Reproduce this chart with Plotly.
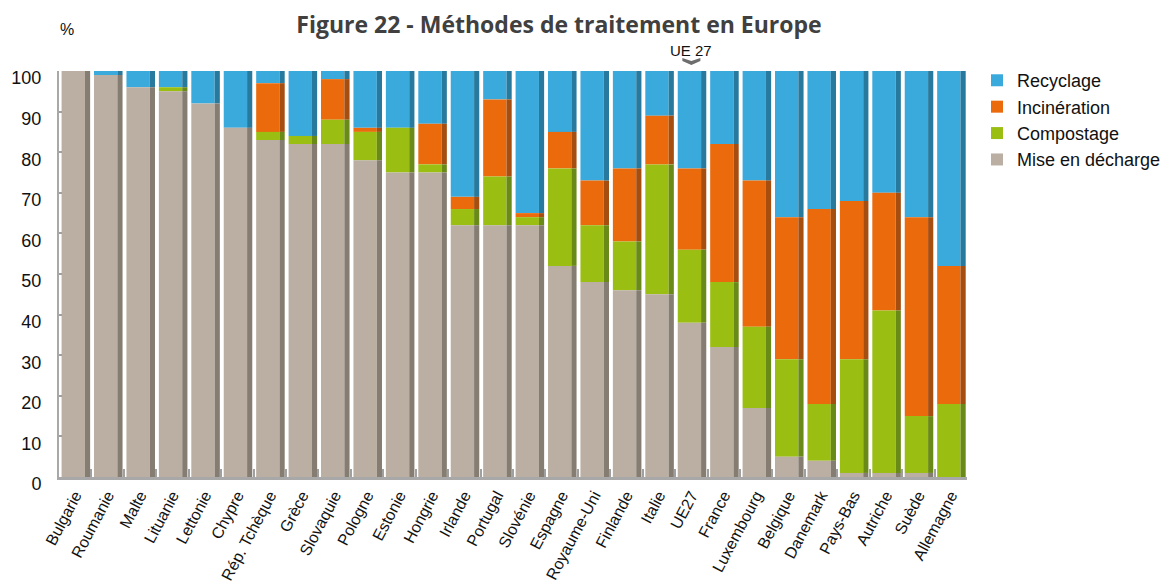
import numpy as np
import plotly.graph_objects as go

countries = ["Bulgarie", "Roumanie", "Malte", "Lituanie", "Lettonie", "Chypre", "Rép. Tchèque",
             "Grèce", "Slovaquie", "Pologne", "Estonie", "Hongrie", "Irlande", "Portugal",
             "Slovénie", "Espagne", "Royaume-Uni", "Finlande", "Italie", "UE27", "France",
             "Luxembourg", "Belgique", "Danemark", "Pays-Bas", "Autriche", "Suède", "Allemagne"]

mise_en_decharge = [100, 99, 96, 95, 92, 86, 83, 82, 82, 78, 75, 75, 62, 62, 62, 52, 48, 46, 45, 38, 32, 17, 5, 4, 1, 1, 1, 0]
compostage = [0, 0, 0, 1, 0, 0, 2, 2, 6, 7, 11, 2, 4, 12, 2, 24, 14, 12, 32, 18, 16, 20, 24, 14, 28, 40, 14, 18]
incineration = [0, 0, 0, 0, 0, 0, 12, 0, 10, 1, 0, 10, 3, 19, 1, 9, 11, 18, 12, 20, 34, 36, 35, 48, 39, 29, 49, 34]
recyclage = [0, 1, 4, 4, 8, 14, 3, 16, 2, 14, 14, 13, 31, 7, 35, 15, 27, 24, 11, 24, 18, 27, 36, 34, 32, 30, 36, 48]

y_ticks = [0, 10, 20, 30, 40, 50, 60, 70, 80, 90, 100]

FONT = "Liberation Sans, Arial, sans-serif"

m = np.array(mise_en_decharge, dtype=float)
c = np.array(compostage, dtype=float)
i = np.array(incineration, dtype=float)
r = np.array(recyclage, dtype=float)

series = [
    ("Recyclage", r, m + c + i, "#3AA9DC", "#27799E"),
    ("Incinération", i, m + c, "#EA6A0C", "#A64D10"),
    ("Compostage", c, m, "#9ABE12", "#6A8A17"),
    ("Mise en décharge", m, np.zeros_like(m), "#BAAFA2", "#857D72"),
]

fig = go.Figure()
for name, vals, base, col, dark in series:
    fig.add_trace(go.Bar(
        x=countries, y=vals, base=base, name=name,
        marker=dict(color=col, line=dict(width=0)),
        offset=-0.42, width=0.72,
        hoverinfo="skip",
    ))
    fig.add_trace(go.Bar(
        x=countries, y=vals, base=base, name=name, showlegend=False,
        marker=dict(color=dark, line=dict(width=0)),
        offset=0.30, width=0.16, hoverinfo="skip",
    ))

# the page body adds an 8px margin, so the figure is sized 1160x576
fig.update_layout(
    width=1160, height=576,
    barmode="overlay",
    plot_bgcolor="white", paper_bgcolor="white",
    margin=dict(l=51, r=201, t=63, b=107, autoexpand=False),
    font=dict(family=FONT, size=17, color="#111111"),
    title=dict(
        text="<b>Figure 22 - Méthodes de traitement en Europe</b>",
        x=0.475, xanchor="center", y=0.9705, yanchor="middle",
        font=dict(family="Open Sans, sans-serif", size=23, color="#404040"),
    ),
    legend=dict(
        x=1.011, xanchor="left", y=1.022, yanchor="top",
        font=dict(family=FONT, size=18, color="#111111"),
        itemwidth=30, tracegroupgap=0, traceorder="normal",
        bgcolor="rgba(0,0,0,0)",
    ),
    showlegend=True,
)

fig.update_xaxes(
    type="category", categoryorder="array", categoryarray=countries,
    showline=True, linecolor="#A8A8A8", linewidth=3,
    ticks="inside", tickson="boundaries", ticklen=8, tickwidth=2, tickcolor="#A0A0A0",
    tickangle=-62, tickfont=dict(family=FONT, size=16, color="#111111"),
    showgrid=False, zeroline=False, range=[-0.5, len(countries) - 0.5],
    automargin=False,
)
fig.update_yaxes(
    range=[0, 100], tickvals=y_ticks, ticktext=[str(v) for v in y_ticks],
    showline=True, linecolor="#A8A8A8", linewidth=2,
    ticks="inside", ticklen=3, tickwidth=2, tickcolor="#A0A0A0",
    tickfont=dict(family=FONT, size=18, color="#111111"),
    ticklabelshift=7, ticklabelstandoff=12,
    showgrid=False, zeroline=False, automargin=False,
)

fig.add_annotation(
    text="%", xref="paper", yref="paper", x=0.0088, y=1.101,
    xanchor="center", yanchor="middle", showarrow=False,
    font=dict(family=FONT, size=16, color="#111111"),
)
fig.add_annotation(
    text="UE 27", xref="x", yref="paper", x="UE27", y=1.0517,
    xanchor="center", yanchor="middle", showarrow=False,
    font=dict(family=FONT, size=15, color="#111111"),
)
fig.add_shape(
    type="path", xref="x", yref="paper", xsizemode="pixel", ysizemode="pixel",
    xanchor=countries.index("UE27"), yanchor=1,
    path="M-9,13 L0,10 L9,13 L9,10 L0,6 L-9,10 Z",
    fillcolor="#6D6D6D", line=dict(width=0),
)

fig.write_html("out.html")
